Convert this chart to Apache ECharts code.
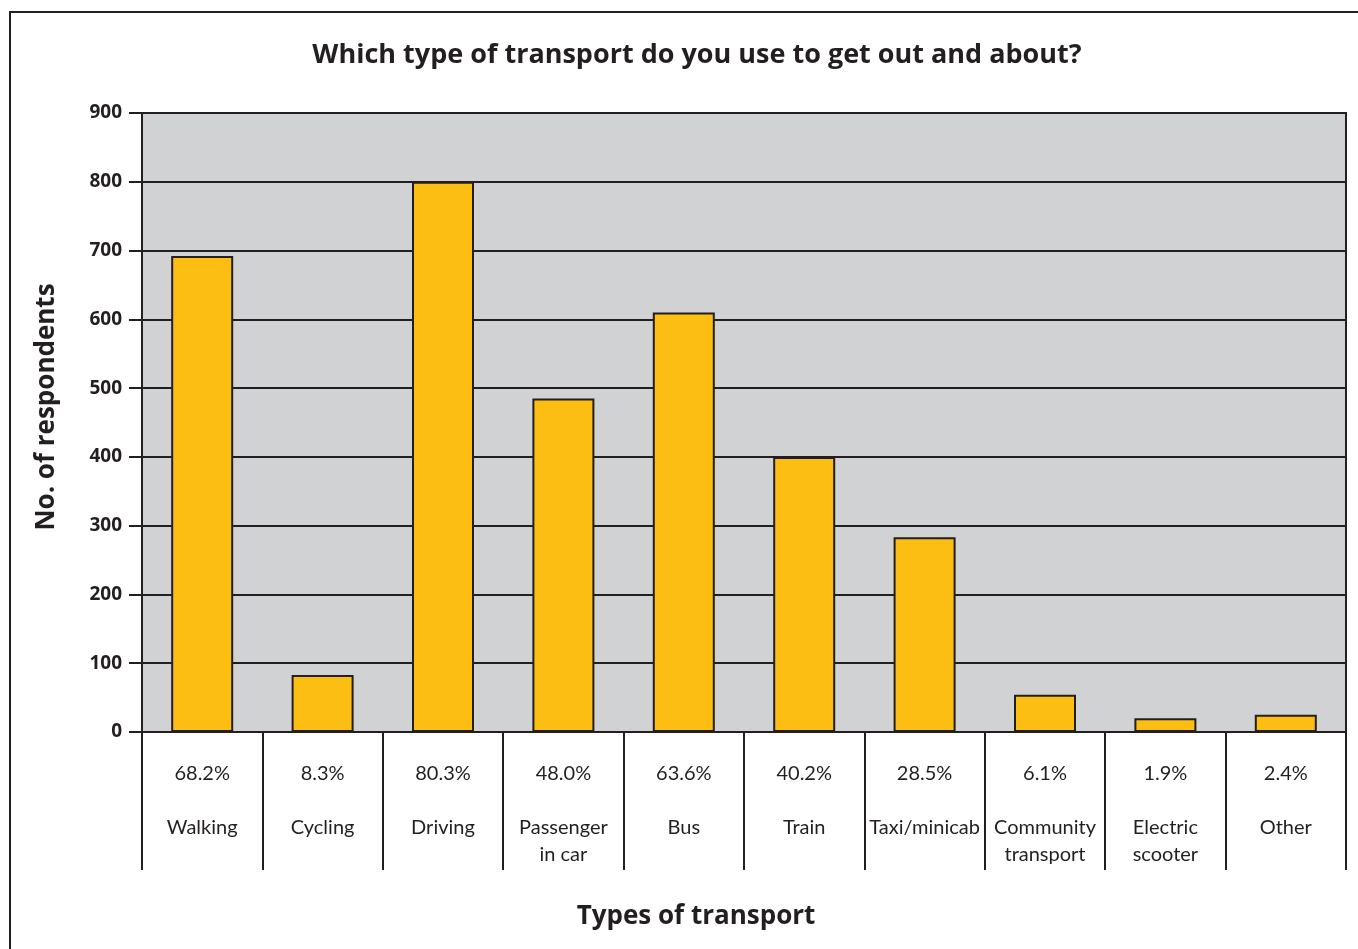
<!DOCTYPE html>
<html>
<head>
<meta charset="utf-8">
<script src="https://cdn.jsdelivr.net/npm/echarts@6/dist/echarts.min.js"></script>
<style>
  html, body { margin: 0; padding: 0; background: #fff; }
  #chart { width: 1358px; height: 949px; }
</style>
</head>
<body>
<div id="chart"></div>
<script>
// data
const categories = ['Walking', 'Cycling', 'Driving', 'Passenger\nin car', 'Bus', 'Train', 'Taxi/minicab', 'Community\ntransport', 'Electric\nscooter', 'Other'];
const respondents = [692, 83, 800, 485, 610, 400, 283, 54, 20, 25];
const percentages = ['68.2%', '8.3%', '80.3%', '48.0%', '63.6%', '40.2%', '28.5%', '6.1%', '1.9%', '2.4%'];
const yTicks = [0, 100, 200, 300, 400, 500, 600, 700, 800, 900];

const ink = '#231f20';
const font = 'Lato, "Open Sans", sans-serif';
const boldFont = '"Open Sans", Lato, sans-serif';

const chart = echarts.init(document.getElementById('chart'));

chart.setOption({
  animation: false,
  backgroundColor: '#fff',
  textStyle: { fontFamily: font, color: ink },
  graphic: [
    {
      // outer frame (only top and left edges fall inside the picture)
      type: 'rect',
      shape: { x: 10, y: 12, width: 1400, height: 1000 },
      style: { fill: 'none', stroke: ink, lineWidth: 2 },
      silent: true
    },
    {
      // y axis title
      type: 'text',
      x: 47, y: 407,
      rotation: Math.PI / 2,
      style: {
        text: 'No. of respondents',
        font: 'bold 26px "Open Sans", Lato, sans-serif',
        fill: ink,
        align: 'center',
        verticalAlign: 'middle'
      },
      silent: true
    }
  ],
  title: [
    {
      text: 'Which type of transport do you use to get out and about?',
      left: 692, top: 37, textAlign: 'center',
      textStyle: { fontFamily: boldFont, fontSize: 27, fontWeight: 'bold', color: ink }
    },
    {
      text: 'Types of transport',
      left: 691, top: 899, textAlign: 'center',
      textStyle: { fontFamily: boldFont, fontSize: 26, fontWeight: 'bold', color: ink }
    }
  ],
  grid: {
    left: 142, right: 12, top: 113, bottom: 217,
    show: true,
    backgroundColor: '#d1d2d4',
    borderColor: ink,
    borderWidth: 2
  },
  xAxis: {
    type: 'category',
    data: categories,
    axisLine: { show: true, lineStyle: { color: ink, width: 2 } },
    axisTick: {
      show: true, interval: 0, alignWithLabel: false,
      length: 138, lineStyle: { color: ink, width: 2 }
    },
    axisLabel: {
      interval: 0,
      margin: 28,
      fontFamily: font,
      fontSize: 20,
      lineHeight: 27,
      color: ink,
      formatter: (v, i) => percentages[i] + '\n\n' + v
    }
  },
  yAxis: {
    type: 'value',
    min: 0, max: 900, interval: 100,
    axisLine: { show: true, lineStyle: { color: ink, width: 2 } },
    axisTick: { show: true, length: 13, lineStyle: { color: ink, width: 2 } },
    axisLabel: {
      margin: 20,
      fontFamily: boldFont, fontSize: 19, fontWeight: 'bold', color: ink,
      formatter: v => (yTicks.indexOf(v) >= 0 ? String(v) : '')
    },
    splitLine: { show: true, lineStyle: { color: ink, width: 2 } }
  },
  series: [
    {
      type: 'bar',
      data: respondents,
      barWidth: 62,
      itemStyle: { color: '#fdbe13', borderColor: ink, borderWidth: 2 },
      z: 3
    }
  ]
});
</script>
</body>
</html>
